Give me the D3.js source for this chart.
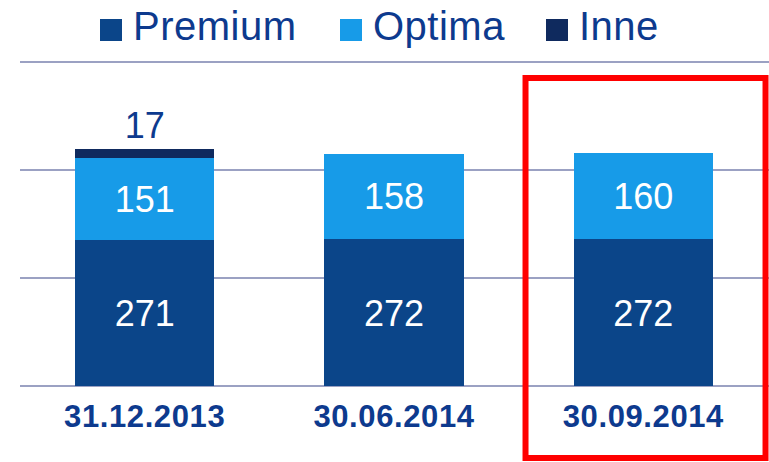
<!DOCTYPE html>
<html>
<head>
<meta charset="utf-8">
<script src="https://cdn.jsdelivr.net/npm/d3@7"></script>
<style>
  body { margin: 0; background: #fff; }
  svg { display: block; font-family: Arial, "Liberation Sans", sans-serif; }
</style>
</head>
<body>
<svg id="chart" width="769" height="462"></svg>
<script>
var categories = ['31.12.2013', '30.06.2014', '30.09.2014'];
var seriesNames = ['Premium', 'Optima', 'Inne'];
var premium = [271, 272, 272];
var optima = [151, 158, 160];
var inne = [17, 0, 0];
var gridTicks = [0, 200, 400, 600];

var colors = { Premium: '#0b4589', Optima: '#179be8', Inne: '#0f2a5e' };
var textColor = '#0d3a8e';

var svg = d3.select('svg#chart');

var x = d3.scaleBand().domain(categories).range([20, 768])
    .paddingInner(0.44).paddingOuter(0.22);
var y = d3.scaleLinear().domain([0, 600]).range([386, 62]);

var rows = categories.map(function (c, i) {
    return { cat: c, Premium: premium[i], Optima: optima[i], Inne: inne[i] };
});
var stacked = d3.stack().keys(seriesNames)(rows);

// grid lines
svg.append('g').selectAll('line')
    .data(gridTicks)
    .join('line')
    .attr('x1', 20).attr('x2', 769)
    .attr('y1', function (d) { return y(d); })
    .attr('y2', function (d) { return y(d); })
    .attr('stroke', '#9ba1c3')
    .attr('stroke-width', 2);

// bars
var layers = svg.append('g').selectAll('g')
    .data(stacked)
    .join('g')
    .attr('fill', function (d) { return colors[d.key]; });

layers.selectAll('rect')
    .data(function (d) { return d.filter(function (p) { return p[1] - p[0] > 0; }); })
    .join('rect')
    .attr('shape-rendering', 'crispEdges')
    .attr('x', function (d) { return x(d.data.cat); })
    .attr('width', x.bandwidth())
    .attr('y', function (d) { return y(d[1]); })
    .attr('height', function (d) { return y(d[0]) - y(d[1]); });

// values inside bars
stacked.slice(0, 2).forEach(function (layer) {
    svg.append('g').selectAll('text')
        .data(layer)
        .join('text')
        .attr('x', function (d) { return x(d.data.cat) + x.bandwidth() / 2; })
        .attr('y', function (d) { return (y(d[0]) + y(d[1])) / 2 + 13; })
        .attr('text-anchor', 'middle')
        .attr('fill', '#fff')
        .attr('font-size', 36)
        .text(function (d) { return d[1] - d[0]; });
});

// value above the thin "Inne" segment
svg.append('g').selectAll('text')
    .data(stacked[2].filter(function (d) { return d[1] - d[0] > 0; }))
    .join('text')
    .attr('x', function (d) { return x(d.data.cat) + x.bandwidth() / 2; })
    .attr('y', function (d) { return y(d[1]) - 11; })
    .attr('text-anchor', 'middle')
    .attr('fill', textColor)
    .attr('font-size', 36)
    .text(function (d) { return d[1] - d[0]; });

// category labels
svg.append('g').selectAll('text')
    .data(categories)
    .join('text')
    .attr('x', function (d) { return x(d) + x.bandwidth() / 2; })
    .attr('y', 427)
    .attr('text-anchor', 'middle')
    .attr('fill', textColor)
    .attr('font-weight', 'bold')
    .attr('font-size', 31)
    .attr('letter-spacing', 0.6)
    .text(function (d) { return d; });

// legend
var legendX = [100, 340, 546];
var legend = svg.append('g').selectAll('g')
    .data(seriesNames)
    .join('g')
    .attr('transform', function (d, i) { return 'translate(' + legendX[i] + ',0)'; });

legend.append('rect')
    .attr('x', 0).attr('y', 19)
    .attr('width', 22).attr('height', 22)
    .attr('fill', function (d) { return colors[d]; });

legend.append('text')
    .attr('x', 33).attr('y', 40)
    .attr('fill', textColor)
    .attr('font-size', 40)
    .attr('letter-spacing', 0.5)
    .text(function (d) { return d; });

// highlight frame around last column
var last = categories[categories.length - 1];
svg.append('rect')
    .attr('x', x(last) - 48)
    .attr('y', 78)
    .attr('width', 240)
    .attr('height', 380)
    .attr('fill', 'none')
    .attr('stroke', '#ff0000')
    .attr('stroke-width', 6);
</script>
</body>
</html>
